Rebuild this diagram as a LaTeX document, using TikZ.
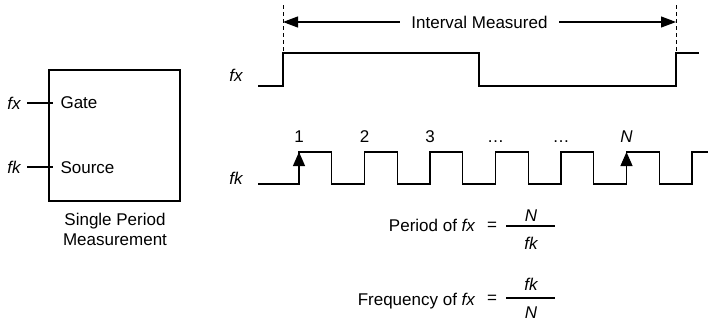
\documentclass[tikz,border=0pt]{standalone}
\usepackage{fontspec}
\setmainfont{Liberation Sans}
\usetikzlibrary{arrows.meta}
\begin{document}
\begin{tikzpicture}[x=1pt,y=-1pt,line width=1.1pt,
  >={Triangle[length=15pt,width=11pt]},
  lbl/.style={font=\fontsize{17}{20}\selectfont,inner sep=1pt},
  sig/.style={font=\fontsize{17}{20}\selectfont\itshape,inner sep=1pt},
  edgemark/.style={dash pattern=on 4pt off 3pt,line width=0.8pt}]
\useasboundingbox (0,0) rectangle (708,322);
% left: counter block with its two inputs
\node[draw,minimum width=131pt,minimum height=131pt,inner sep=0pt] (ctr) at (114.5,135.5) {};
\node[lbl,anchor=west] (gate) at (59,103) {Gate};
\node[lbl,anchor=west] (src) at (59,168) {Source};
\node[sig] (fxin) at (14,103) {fx};
\node[sig] (fkin) at (14,167) {fk};
\draw ([xshift=5pt]fxin.east) -- ([xshift=5pt]fxin.east -| ctr.west);
\draw ([xshift=5pt]fkin.east) -- ([xshift=5pt]fkin.east -| ctr.west);
\node[lbl,align=center] (cap) at (115,229) {Single Period\\Measurement};
% right: gate signal fx
\node[sig] (fxl) at (236,75) {fx};
\draw (258,86) -- (283,86) -- (283,53) -- (479,53) -- (479,86) -- (676,86) -- (676,53) -- (699,53);
\draw[edgemark] (283,5) -- (283,53); \draw[edgemark] (676,5) -- (676,53);
\coordinate (ta) at (283,22); \coordinate (tb) at (676,22);
\draw[<->] (ta) -- node[lbl,fill=white,inner xsep=11pt] (imeas) {Interval Measured} (tb);
% source signal fk
\node[sig] (fkl) at (236,178) {fk};
\draw (258,184) -- (299,184) \foreach \i in {1,...,6}{ -- ++(0,-32) -- ++(32.75,0) -- ++(0,32) -- ++(32.75,0)} -- ++(0,-32) -- (708,152);
\foreach \t/\x [count=\k] in {1/299,2/364.5,3/430,…/495.5,…/561,\textit{N}/626.5}{\node[lbl,anchor=base] (n\k) at (\x,142) {\t};}
\draw[-{Triangle[length=14pt,width=12pt]}] (299,184) -- (299,152);
\draw[-{Triangle[length=14pt,width=12pt]}] (626.5,184) -- (626.5,152);
% formulas
\node[lbl,anchor=base east] (per) at (477,231) {Period of \textit{fx}};
\node[lbl] (pereq) at (492,226) {=};
\draw (506,226) -- (555,226);
\node[sig] (pern) at (531,215.5) {N};
\node[sig] (perd) at (531,243.5) {fk};
\node[lbl,anchor=base east] (frq) at (477,305) {Frequency of \textit{fx}};
\node[lbl] (frqeq) at (492,299) {=};
\draw (506,298) -- (555,298);
\node[sig] (frqn) at (531,284.5) {fk};
\node[sig] (frqd) at (531,313) {N};
\end{tikzpicture}
\end{document}
